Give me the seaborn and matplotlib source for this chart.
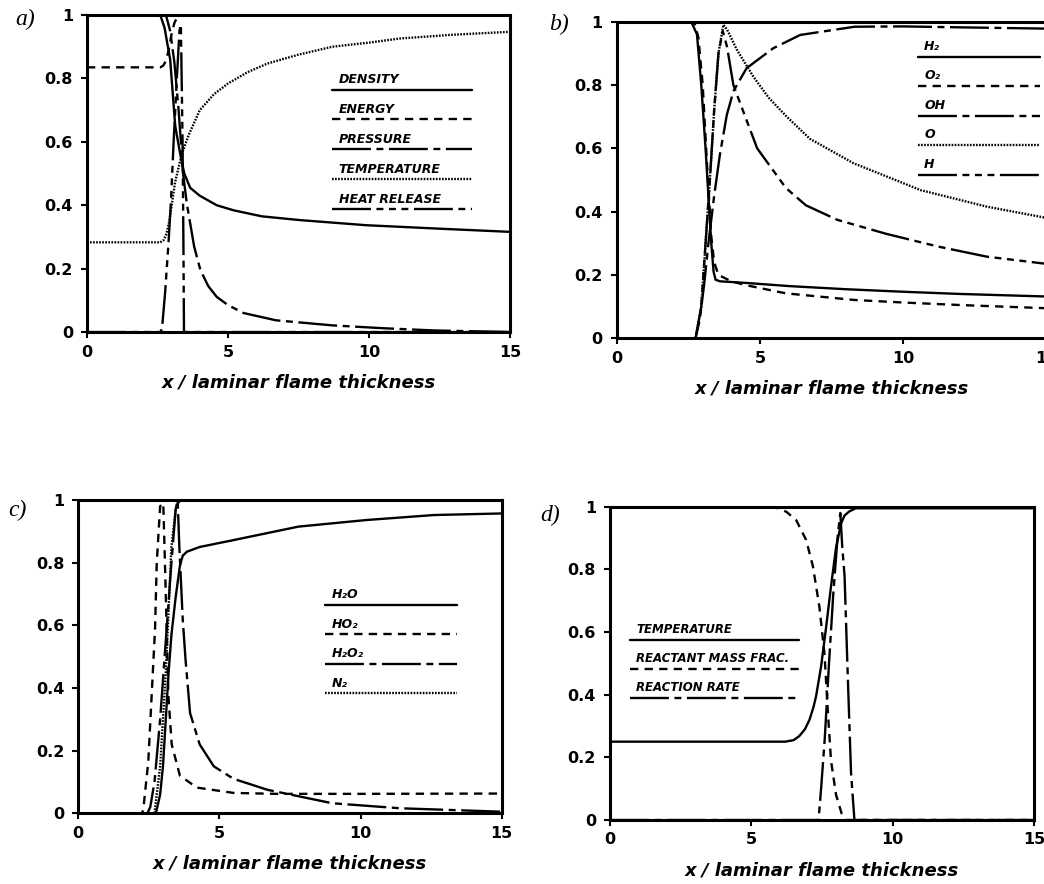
import seaborn as sns
import matplotlib.pyplot as plt

# --- panel a : density, energy, pressure, temperature, heat release ---
a_labels = ['DENSITY', 'ENERGY', 'PRESSURE', 'TEMPERATURE', 'HEAT RELEASE']
a_density_x = [0, 2.6, 2.75, 2.95, 3.13, 3.31, 3.45, 3.66, 4.0, 4.6, 5.2, 6.2, 7.56, 9.9, 12.5, 15]
a_density_y = [1, 1, 0.96, 0.86, 0.65, 0.56, 0.5, 0.455, 0.43, 0.40, 0.384, 0.365, 0.353, 0.337, 0.326, 0.316]
a_energy_x = [0, 2.6, 2.7, 2.8, 2.9, 3.0, 3.1, 3.2, 3.3, 15]
a_energy_y = [0.835, 0.835, 0.84, 0.855, 0.89, 0.94, 0.975, 0.993, 1.0, 1.0]
a_pressure_x = [0, 2.8, 2.95, 3.1, 3.25, 3.42, 3.55, 3.66, 3.8, 4.02, 4.3, 4.6, 5.0, 5.55, 6.7, 8.7, 10.5, 12.3, 15]
a_pressure_y = [1, 1, 0.95, 0.85, 0.7, 0.49, 0.4, 0.343, 0.27, 0.196, 0.145, 0.111, 0.085, 0.06, 0.037, 0.021, 0.012, 0.005, 0.0]
a_temp_x = [0, 2.6, 2.72, 2.82, 2.92, 3.02, 3.12, 3.25, 3.37, 3.6, 4.0, 4.5, 5.0, 5.7, 6.4, 7.5, 8.7, 10, 11.1, 13, 15]
a_temp_y = [0.283, 0.283, 0.29, 0.31, 0.35, 0.41, 0.47, 0.52, 0.563, 0.62, 0.70, 0.75, 0.784, 0.82, 0.847, 0.875, 0.90, 0.913, 0.926, 0.938, 0.947]
a_heat_x = [0, 2.6, 2.66, 2.77, 2.89, 2.98, 3.07, 3.19, 3.28, 3.33, 3.39, 3.42, 3.44, 15]
a_heat_y = [0, 0, 0.01, 0.123, 0.28, 0.416, 0.595, 0.805, 0.95, 0.97, 0.60, 0.28, 0.0, 0]

# --- panel b : H2, O2, OH, O, H ---
b_labels = ['H₂', 'O₂', 'OH', 'O', 'H']
b_h2_x = [0, 2.6, 2.8, 2.95, 3.1, 3.2, 3.3, 3.38, 3.45, 3.6, 4.5, 6, 8, 10, 12, 15]
b_h2_y = [1, 1, 0.96, 0.8, 0.6, 0.45, 0.3, 0.21, 0.185, 0.18, 0.175, 0.165, 0.155, 0.147, 0.14, 0.132]
b_o2_x = [0, 2.7, 2.85, 3.0, 3.15, 3.3, 3.4, 3.55, 4.0, 4.5, 5.9, 8.3, 10, 12, 15]
b_o2_y = [1, 1, 0.95, 0.8, 0.55, 0.32, 0.24, 0.2, 0.18, 0.168, 0.142, 0.121, 0.113, 0.105, 0.095]
b_oh_x = [0, 2.75, 2.9, 3.05, 3.2, 3.4, 3.6, 3.84, 4.07, 4.53, 5.46, 6.4, 8.3, 10, 12, 15]
b_oh_y = [0, 0, 0.06, 0.17, 0.3, 0.45, 0.58, 0.705, 0.78, 0.853, 0.916, 0.958, 0.984, 0.985, 0.982, 0.978]
b_o_x = [0, 2.75, 2.95, 3.1, 3.25, 3.4, 3.55, 3.72, 3.85, 4.2, 4.77, 5.3, 5.93, 6.74, 8.26, 10.6, 12.9, 15]
b_o_y = [0, 0, 0.1, 0.3, 0.5, 0.72, 0.9, 0.99, 0.975, 0.91, 0.826, 0.76, 0.70, 0.63, 0.553, 0.468, 0.416, 0.38]
b_h_x = [0, 2.75, 2.95, 3.1, 3.25, 3.4, 3.55, 3.7, 3.85, 4.07, 4.4, 4.9, 5.9, 6.6, 7.7, 9.4, 11.2, 12.9, 15]
b_h_y = [0, 0, 0.1, 0.3, 0.5, 0.72, 0.9, 0.97, 0.92, 0.8, 0.72, 0.6, 0.475, 0.42, 0.374, 0.33, 0.29, 0.258, 0.235]

# --- panel c : H2O, HO2, H2O2, N2 ---
c_labels = ['H₂O', 'HO₂', 'H₂O₂', 'N₂']
c_h2o_x = [0, 2.75, 2.9, 3.0, 3.1, 3.2, 3.3, 3.45, 3.6, 3.7, 3.85, 4.3, 5.5, 7.8, 10.2, 12.6, 15]
c_h2o_y = [0, 0, 0.06, 0.15, 0.3, 0.45, 0.57, 0.69, 0.79, 0.822, 0.835, 0.85, 0.872, 0.915, 0.936, 0.952, 0.957]
c_ho2_x = [0, 2.25, 2.3, 2.48, 2.6, 2.72, 2.78, 2.9, 3.01, 3.07, 3.13, 3.19, 3.31, 3.6, 4.2, 5.5, 7, 10, 15]
c_ho2_y = [0, 0, 0.01, 0.165, 0.378, 0.59, 0.80, 0.98, 0.99, 0.8, 0.59, 0.378, 0.22, 0.12, 0.082, 0.065, 0.062, 0.062, 0.063]
c_h2o2_x = [0, 2.45, 2.55, 2.7, 2.9, 3.1, 3.3, 3.45, 3.52, 3.58, 3.7, 3.8, 3.96, 4.3, 4.8, 5.5, 6.7, 9, 11.4, 15]
c_h2o2_y = [0, 0, 0.02, 0.1, 0.3, 0.55, 0.8, 0.97, 1.0, 0.85, 0.62, 0.49, 0.32, 0.22, 0.15, 0.11, 0.075, 0.032, 0.016, 0.005]
c_n2_x = [0, 2.7, 2.9, 3.1, 3.2, 3.3, 3.45, 3.6, 15]
c_n2_y = [0, 0, 0.15, 0.45, 0.65, 0.85, 0.97, 1.0, 1.0]

# --- panel d : one-step chemistry ---
d_labels = ['TEMPERATURE', 'REACTANT MASS FRAC.', 'REACTION RATE']
d_temp_x = [0, 6.2, 6.5, 6.7, 6.9, 7.06, 7.2, 7.29, 7.47, 7.65, 7.82, 8.0, 8.18, 8.3, 8.47, 8.7, 15]
d_temp_y = [0.25, 0.25, 0.255, 0.268, 0.29, 0.32, 0.36, 0.394, 0.49, 0.617, 0.745, 0.87, 0.947, 0.972, 0.985, 0.995, 0.995]
d_react_x = [0, 5.8, 6.24, 6.59, 6.94, 7.18, 7.41, 7.59, 7.7, 7.82, 8.0, 8.2, 8.35, 15]
d_react_y = [1, 1, 0.984, 0.957, 0.894, 0.81, 0.68, 0.53, 0.36, 0.19, 0.08, 0.02, 0.0, 0.0]
d_rate_x = [0, 7.38, 7.47, 7.6, 7.75, 7.9, 8.05, 8.15, 8.22, 8.3, 8.41, 8.53, 8.65, 15]
d_rate_y = [0, 0, 0.1, 0.26, 0.5, 0.72, 0.9, 0.98, 0.87, 0.78, 0.47, 0.15, 0.0, 0.0]

x_ticks = [0, 5, 10, 15]
y_ticks = [0, 0.2, 0.4, 0.6, 0.8, 1]
y_ticklabels = ['0', '0.2', '0.4', '0.6', '0.8', '1']

# line styles (in points, not scaled by linewidth)
SOLID = '-'
DASH = (0, (6, 4.5))
LONG1 = (0, (28, 4, 5, 4))
LONG3 = (0, (28, 4, 5, 4, 5, 4, 5, 4))
DOT = (0, (1.2, 1.0))
LW = 1.7

sns.set_theme(style='ticks')
plt.rcParams['font.family'] = ['DejaVu Sans']
plt.rcParams['lines.scale_dashes'] = False
plt.rcParams['text.color'] = 'black'
plt.rcParams['axes.labelcolor'] = 'black'
plt.rcParams['xtick.color'] = 'black'
plt.rcParams['ytick.color'] = 'black'

fig = plt.figure(figsize=(10.44, 8.84), dpi=100)
ax_a = fig.add_axes([0.0833, 0.6244, 0.4052, 0.3586])
ax_b = fig.add_axes([0.5907, 0.6173, 0.4119, 0.3582])
ax_c = fig.add_axes([0.0750, 0.0800, 0.4055, 0.3544])
ax_d = fig.add_axes([0.5843, 0.0724, 0.4060, 0.3544])


def curve(ax, x, y, ls):
    sns.lineplot(x=x, y=y, ax=ax, color='black', linewidth=LW, linestyle=ls,
                 errorbar=None, sort=False, legend=False)


def style_axes(ax):
    ax.set_xlim(0, 15)
    ax.set_ylim(0, 1)
    ax.set_xticks(x_ticks)
    ax.set_xticklabels([str(t) for t in x_ticks])
    ax.set_yticks(y_ticks)
    ax.set_yticklabels(y_ticklabels)
    for s in ax.spines.values():
        s.set_visible(True)
        s.set_linewidth(2.2)
        s.set_color('black')
    ax.tick_params(axis='both', direction='out', length=4, width=1.5, colors='black',
                   labelsize=11.5, top=False, right=False)
    ax.tick_params(axis='x', pad=5)
    ax.tick_params(axis='y', pad=6)
    for lab in ax.get_xticklabels() + ax.get_yticklabels():
        lab.set_fontweight('bold')
    ax.set_xlabel('x / laminar flame thickness', fontsize=13, fontweight='bold',
                  fontstyle='italic', labelpad=10, color='black')
    ax.set_ylabel('')


def key(ax, labels, styles, x0, x1, y_top, step, fs=9):
    # hand-made key: label text with the line sample underneath
    for i, (lab, ls) in enumerate(zip(labels, styles)):
        yl = y_top - i * step
        ax.plot([x0, x1], [yl, yl], transform=ax.transAxes, color='black',
                linewidth=LW, linestyle=ls, clip_on=False)
        ax.text(x0 + 0.015, yl + 0.012, lab, transform=ax.transAxes, fontsize=fs,
                fontweight='bold', fontstyle='italic', va='bottom', ha='left',
                color='black')


# panel a
curve(ax_a, a_density_x, a_density_y, SOLID)
curve(ax_a, a_energy_x, a_energy_y, DASH)
curve(ax_a, a_pressure_x, a_pressure_y, LONG1)
curve(ax_a, a_temp_x, a_temp_y, DOT)
curve(ax_a, a_heat_x, a_heat_y, LONG3)
style_axes(ax_a)
key(ax_a, a_labels, [SOLID, DASH, LONG1, DOT, LONG3], 0.58, 0.91, 0.765, 0.0945)

# panel b
curve(ax_b, b_h2_x, b_h2_y, SOLID)
curve(ax_b, b_o2_x, b_o2_y, DASH)
curve(ax_b, b_oh_x, b_oh_y, LONG1)
curve(ax_b, b_o_x, b_o_y, DOT)
curve(ax_b, b_h_x, b_h_y, LONG3)
style_axes(ax_b)
key(ax_b, b_labels, [SOLID, DASH, LONG1, DOT, LONG3], 0.70, 0.985, 0.889, 0.093)

# panel c
curve(ax_c, c_h2o_x, c_h2o_y, SOLID)
curve(ax_c, c_ho2_x, c_ho2_y, DASH)
curve(ax_c, c_h2o2_x, c_h2o2_y, LONG1)
curve(ax_c, c_n2_x, c_n2_y, DOT)
style_axes(ax_c)
key(ax_c, c_labels, [SOLID, DASH, LONG1, DOT], 0.583, 0.894, 0.665, 0.094)

# panel d
curve(ax_d, d_temp_x, d_temp_y, SOLID)
curve(ax_d, d_react_x, d_react_y, DASH)
curve(ax_d, d_rate_x, d_rate_y, LONG1)
style_axes(ax_d)
key(ax_d, d_labels, [SOLID, DASH, LONG1], 0.047, 0.447, 0.575, 0.092, fs=8.5)

# panel letters
for lab, (fx, fy) in zip(['a)', 'b)', 'c)', 'd)'],
                         [(0.024, 0.978), (0.535, 0.972), (0.017, 0.423), (0.527, 0.417)]):
    fig.text(fx, fy, lab, fontsize=17, fontstyle='italic', family='Liberation Serif',
             ha='center', va='center', color='black')

fig.savefig('out.png', dpi=100, facecolor='white')
